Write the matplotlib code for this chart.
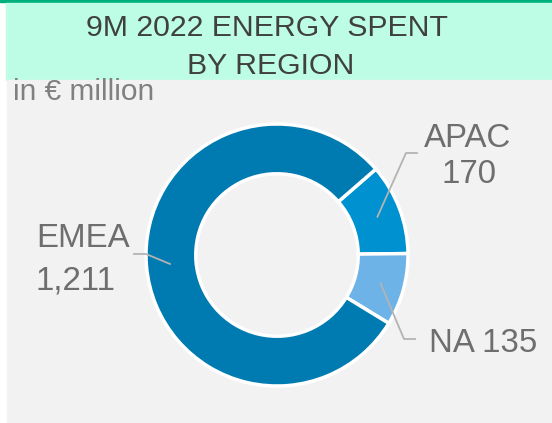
import numpy as np
import matplotlib.pyplot as plt
from matplotlib.patches import Rectangle

# data
regions = ["APAC", "NA", "EMEA"]
values = [170, 135, 1211]
value_labels = ["170", "135", "1,211"]
colors = ["#0091d1", "#6db3e8", "#007bb2"]

W, H = 552, 423
fig = plt.figure(figsize=(W / 100, H / 100), dpi=100)
fig.patch.set_facecolor("white")

# background bands (in pixel units -> figure fraction)
def px(x0, y0, w, h):
    return (x0 / W, 1 - (y0 + h) / H, w / W, h / H)

for box, col in [((0, 0, W, 2.5), "#00b07c"),
                 ((6, 2.5, W - 6, 77.5), "#bdfde6"),
                 ((7, 80, W - 7, H - 80), "#f2f2f2")]:
    x, y, w, h = px(*box)
    fig.patches.append(Rectangle((x, y), w, h, transform=fig.transFigure,
                                 color=col, zorder=-10))

font = "Liberation Sans"
fig.text(267 / W, 1 - 36 / H, "9M 2022 ENERGY SPENT", ha="center", va="baseline",
         fontsize=21.8, color="#404040", family=font)
fig.text(271 / W, 1 - 74 / H, "BY REGION", ha="center", va="baseline",
         fontsize=21.8, color="#404040", family=font)
fig.text(13 / W, 1 - 100 / H, "in € million", ha="left", va="baseline",
         fontsize=21.5, color="#808080", family=font)

# donut axes: centre (277, 255) px, radius 131 px
cx, cy, r = 277, 255, 131
ax = fig.add_axes(px(cx - r, cy - r, 2 * r, 2 * r))
wedges, _ = ax.pie(values, colors=colors, startangle=41, counterclock=False, radius=1,
                   wedgeprops=dict(width=0.38, edgecolor="white", linewidth=2.5))
ax.set_xlim(-1, 1)
ax.set_ylim(-1, 1)
ax.set_aspect("equal")
ax.axis("off")

def d(pxx, pyy):
    return (pxx - cx) / r, (cy - pyy) / r

# leader lines: elbow and end points (pixel positions)
elbows = [d(406, 153), d(404, 339), d(146, 254)]
ends = [d(417, 153), d(415, 339), d(134, 254)]
for wdg, el, en in zip(wedges, elbows, ends):
    ang = np.deg2rad((wdg.theta1 + wdg.theta2) / 2)
    sx, sy = 0.82 * np.cos(ang), 0.82 * np.sin(ang)
    ax.plot([sx, el[0], en[0]], [sy, el[1], en[1]], color="#b3b3b3", lw=1.3,
            clip_on=False, zorder=5)

lab_col = "#6e6e6e"
lab = dict(fontsize=23.8, color=lab_col, family=font, va="baseline", clip_on=False)
ax.text(*d(468, 147), regions[0], ha="center", **lab)
ax.text(*d(469, 183), value_labels[0], ha="center", **lab)
ax.text(*d(429, 352), regions[1] + " " + value_labels[1], ha="left", **lab)
ax.text(*d(36, 247), regions[2], ha="left", **lab)
ax.text(*d(36, 290), value_labels[2], ha="left", **lab)

fig.savefig("out.png", dpi=100)
